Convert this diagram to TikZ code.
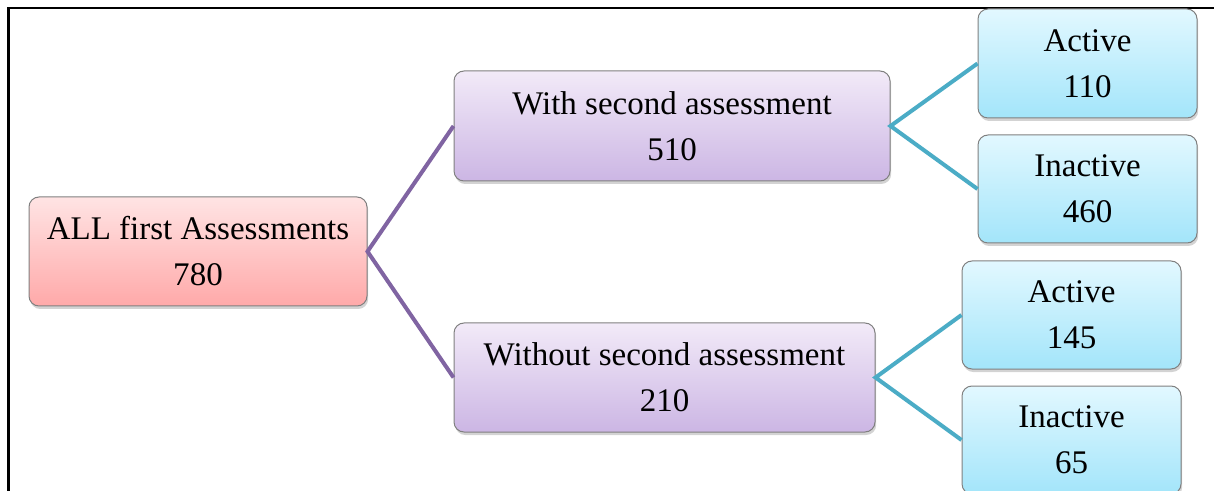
\documentclass[tikz,border=0pt]{standalone}
\usepackage{fontspec}
\setmainfont{Liberation Serif}
\usetikzlibrary{shadows}
\definecolor{linkpurple}{HTML}{8064A2}
\definecolor{linkteal}{HTML}{4BACC6}
\definecolor{pinktop}{HTML}{FFE4E4}
\definecolor{pinkbot}{HTML}{FFA9A9}
\definecolor{lilactop}{HTML}{F2EAF8}
\definecolor{lilacbot}{HTML}{CCB6E4}
\definecolor{skytop}{HTML}{E2F8FF}
\definecolor{skybot}{HTML}{A3E5FA}
\begin{document}
\begin{tikzpicture}[x = 0.5pt, y = -0.5pt,
  box/.style = {draw = black!50, line width = 0.5pt, rounded corners = 5pt, align = center,
    inner sep = 0pt, font = \fontsize{16.5}{23}\selectfont,
    drop shadow = {shadow xshift = 0.6pt, shadow yshift = -1.5pt, opacity = 0.35}},
  rootbox/.style = {box, top color = pinktop, bottom color = pinkbot},
  midbox/.style = {box, top color = lilactop, bottom color = lilacbot},
  leafbox/.style = {box, top color = skytop, bottom color = skybot},
  link/.style = {line width = 2pt}]
\useasboundingbox (0, 0) rectangle (1214, 491);
\draw [line width = 1.2pt] (8.5, 491) -- (8.5, 8) -- (1214, 8);
\node [rootbox, minimum width = 169pt, minimum height = 54.5pt] (all) at (198, 251.5) {ALL first Assessments\\780};
\node [midbox, minimum width = 218pt, minimum height = 55pt] (with) at (672, 126) {With second assessment\\510};
\node [midbox, minimum width = 210.5pt, minimum height = 54.5pt] (without) at (664.5, 377.5) {Without second assessment\\210};
\node [leafbox, minimum width = 109.5pt, minimum height = 54.5pt] (withact) at (1087.5, 63.5) {Active\\110};
\node [leafbox, minimum width = 109.5pt, minimum height = 54pt] (withinact) at (1087.5, 189) {Inactive\\460};
\node [leafbox, minimum width = 109.5pt, minimum height = 54pt] (withoutact) at (1071.5, 315) {Active\\145};
\node [leafbox, minimum width = 109.5pt, minimum height = 54pt] (withoutinact) at (1071.5, 440) {Inactive\\65};
\draw [link, linkpurple] (with.west) -- (all.east) -- (without.west);
\draw [link, linkteal] (withact.west) -- (with.east) -- (withinact.west);
\draw [link, linkteal] (withoutact.west) -- (without.east) -- (withoutinact.west);
\end{tikzpicture}
\end{document}
